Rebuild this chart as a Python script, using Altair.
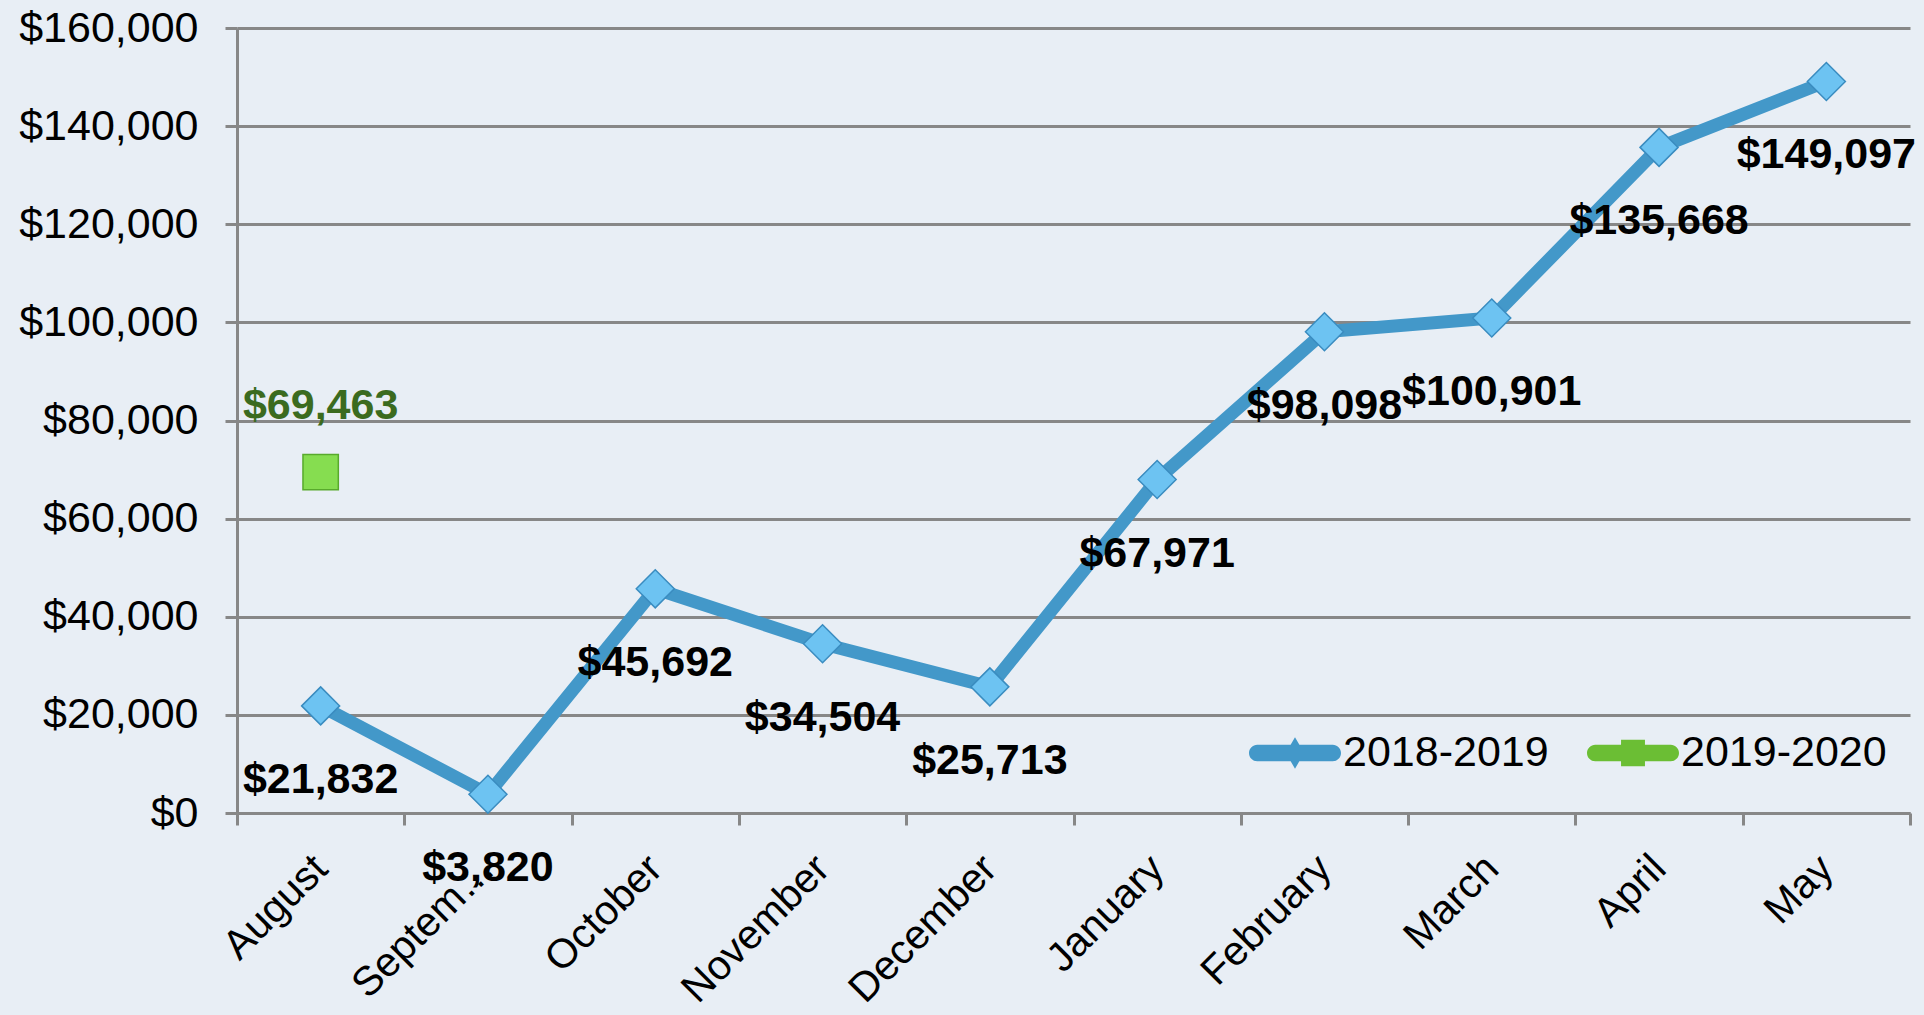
import altair as alt
import pandas as pd

months = ["August", "September", "October", "November", "December",
          "January", "February", "March", "April", "May"]
sales_2018_2019 = [21832, 3820, 45692, 34504, 25713, 67971, 98098, 100901, 135668, 149097]
months_2019_2020 = ["August"]
sales_2019_2020 = [69463]
series_names = ["2018-2019", "2019-2020"]
y_ticks = [0, 20000, 40000, 60000, 80000, 100000, 120000, 140000, 160000]

line_colors = ["#4398C9", "#6BBE34"]
marker_fill = ["#6DC3F2", "#86DD50"]
marker_stroke = ["#3A8CC0", "#58AA2C"]
label_colors = ["#000000", "#3B6B1F"]

df = pd.DataFrame({
    "month": months + months_2019_2020,
    "sales": sales_2018_2019 + sales_2019_2020,
    "series": [series_names[0]] * len(months) + [series_names[1]] * len(months_2019_2020),
})

FONT = "Liberation Sans"
GRID = "#878787"
BG = "#E8EEF5"

x_enc = alt.X(
    "month:N",
    sort=months,
    scale=alt.Scale(type="band", domain=months, paddingInner=0, paddingOuter=0),
    axis=alt.Axis(
        title=None, labelAngle=-45, labelFontSize=41, labelFont=FONT, labelColor="#000",
        labelPadding=23, labelOffset=-14, labelLimit=193, tickBand="extent", tickSize=12,
        tickWidth=3, tickColor=GRID, domainColor=GRID, domainWidth=3, grid=False,
    ),
)
y_enc = alt.Y(
    "sales:Q",
    scale=alt.Scale(domain=[0, 160000], nice=False),
    axis=alt.Axis(
        title=None, values=y_ticks, format="$,.0f", labelFontSize=43, labelFont=FONT,
        labelColor="#000", labelPadding=27, tickSize=12, tickWidth=3, tickColor=GRID,
        domainColor=GRID, domainWidth=3, gridColor=GRID, gridWidth=3, gridOpacity=1,
    ),
)

base = alt.Chart(df).encode(x=x_enc, y=y_enc)

s1 = alt.datum.series == series_names[0]
s2 = alt.datum.series == series_names[1]

line = base.transform_filter(s1).mark_line(color=line_colors[0], strokeWidth=13)

pts1 = base.transform_filter(s1).mark_point(
    shape="diamond", size=1444, filled=True, fill=marker_fill[0], stroke=marker_stroke[0],
    strokeWidth=1.5, opacity=1,
)
pts2 = base.transform_filter(s2).mark_point(
    shape="square", size=1250, filled=True, fill=marker_fill[1], stroke=marker_stroke[1],
    strokeWidth=1.5, opacity=1,
)

lab1 = base.transform_filter(s1).mark_text(
    dy=74, font=FONT, fontSize=43, fontWeight="bold", color=label_colors[0], baseline="middle",
).encode(text=alt.Text("sales:Q", format="$,.0f"))
lab2 = base.transform_filter(s2).mark_text(
    dy=-66, font=FONT, fontSize=43, fontWeight="bold", color=label_colors[1], baseline="middle",
).encode(text=alt.Text("sales:Q", format="$,.0f"))

bar = "M-0.82,-0.18 L0.82,-0.18 A0.18,0.18 0 0 1 0.82,0.18 L-0.82,0.18 A0.18,0.18 0 0 1 -0.82,-0.18 Z "
diamond_path = bar + "M-0.2,0 L0,-0.34 L0.2,0 L0,0.34 Z"
square_path = bar + "M-0.26,-0.29 L0.26,-0.29 L0.26,0.29 L-0.26,0.29 Z"

legend = alt.Legend(
    title=None, orient="none", legendX=1012, legendY=679, direction="horizontal",
    symbolSize=8464, labelFontSize=43, labelFont=FONT, labelColor="#000", labelOffset=2,
    labelLimit=0, columnPadding=38, symbolOpacity=1, symbolStrokeWidth=0, padding=0,
)
legend_layer = base.mark_point(filled=True, opacity=0).encode(
    color=alt.Color("series:N", scale=alt.Scale(domain=series_names, range=line_colors), legend=legend),
    shape=alt.Shape("series:N", scale=alt.Scale(domain=series_names, range=[diamond_path, square_path]), legend=legend),
)

chart = alt.layer(line, pts1, pts2, lab1, lab2, legend_layer).properties(
    width=1673, height=785,
    autosize=alt.AutoSizeParams(type="none"),
    padding={"left": 237, "top": 28, "right": 14, "bottom": 202},
    background=BG,
).configure_view(stroke=None, fill=BG)

chart.save("out.html", embed_options={"renderer": "svg", "actions": False})
